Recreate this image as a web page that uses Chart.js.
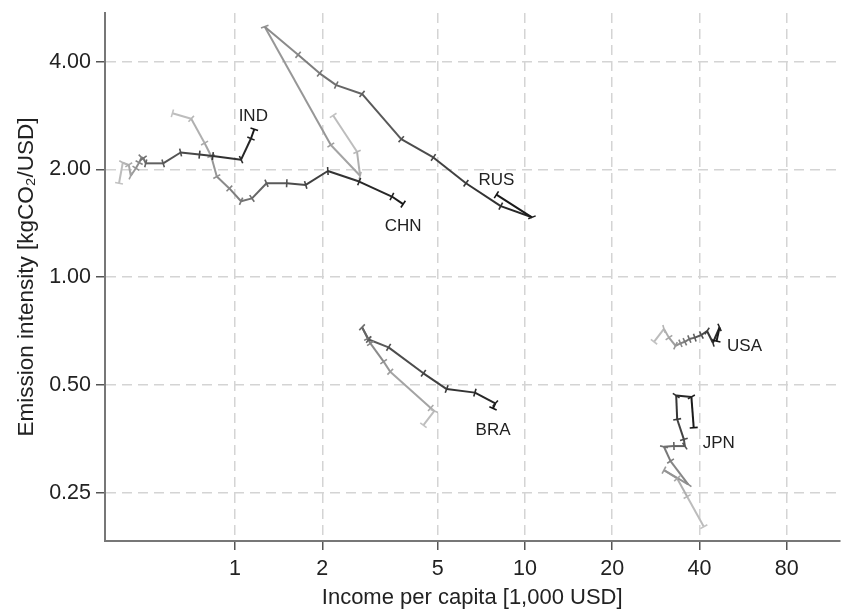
<!DOCTYPE html>
<html>
<head>
<meta charset="utf-8">
<script src="https://cdn.jsdelivr.net/npm/chart.js@4.4.1/dist/chart.umd.min.js"></script>
<style>
  html, body { margin: 0; padding: 0; background: #fff; }
  #wrap { width: 845px; height: 611px; }
</style>
</head>
<body>
<div id="wrap"><canvas id="chart" width="845" height="611"></canvas></div>
<script>
// Country paths: income per capita (1,000 USD) and emission intensity (kgCO2/USD), oldest first
const countries = ['IND', 'CHN', 'RUS', 'BRA', 'USA', 'JPN'];

const incomeIND    = [0.398, 0.41, 0.43, 0.437, 0.455, 0.467, 0.476, 0.483, 0.492, 0.565, 0.649, 0.754, 0.838, 1.049, 1.135, 1.165];
const intensityIND = [1.83, 2.09, 2.06, 1.92, 2.015, 2.09, 2.16, 2.15, 2.08, 2.08, 2.23, 2.20, 2.18, 2.13, 2.44, 2.59];

const incomeCHN    = [0.608, 0.706, 0.785, 0.827, 0.865, 0.956, 1.049, 1.144, 1.284, 1.508, 1.753, 2.09, 2.68, 3.475, 3.80];
const intensityCHN = [2.87, 2.77, 2.37, 2.18, 1.91, 1.77, 1.63, 1.66, 1.83, 1.83, 1.81, 1.98, 1.85, 1.68, 1.60];

const incomeRUS    = [2.18, 2.635, 2.70, 2.14, 1.266, 1.65, 1.958, 2.233, 2.742, 3.743, 4.83, 6.26, 8.25, 10.57, 7.97];
const intensityRUS = [2.83, 2.24, 1.92, 2.34, 5.01, 4.18, 3.71, 3.44, 3.25, 2.43, 2.16, 1.83, 1.58, 1.47, 1.70];

const incomeBRA    = [4.465, 4.87, 4.73, 3.43, 3.255, 2.93, 2.868, 2.742, 2.89, 3.385, 4.465, 5.37, 6.72, 7.90, 7.76];
const intensityBRA = [0.386, 0.423, 0.431, 0.5445, 0.581, 0.6535, 0.674, 0.7246, 0.670, 0.637, 0.539, 0.487, 0.476, 0.444, 0.430];

const incomeUSA    = [27.87, 30.16, 31.38, 33.06, 34.38, 35.6, 36.9, 38.53, 40.6, 42.47, 44.5, 46.9, 45.8];
const intensityUSA = [0.660, 0.717, 0.678, 0.6435, 0.6535, 0.660, 0.672, 0.678, 0.6895, 0.7075, 0.656, 0.724, 0.663];

const incomeJPN    = [41.4, 36.25, 33.5, 30.16, 36.55, 31.78, 30.16, 32.64, 35.6, 35.33, 33.5, 33.24, 37.5, 38.2];
const intensityJPN = [0.201, 0.244, 0.274, 0.289, 0.264, 0.3065, 0.336, 0.3375, 0.3375, 0.3525, 0.401, 0.467, 0.463, 0.380];

const xTicks = [1, 2, 5, 10, 20, 40, 80];
const yTicks = [0.25, 0.5, 1, 2, 4];

const series = {
  IND: [incomeIND, intensityIND],
  CHN: [incomeCHN, intensityCHN],
  RUS: [incomeRUS, intensityRUS],
  BRA: [incomeBRA, intensityBRA],
  USA: [incomeUSA, intensityUSA],
  JPN: [incomeJPN, intensityJPN]
};

// where each country name sits, relative to its last point (px)
const labelOffsets = { IND: [-1, -13], CHN: [0, 22], RUS: [0, -14], BRA: [0, 22], USA: [28, 5], JPN: [25, 16] };

const FONT = "'Liberation Sans', Arial, Helvetica, sans-serif";

// light grey for the first year, near black for the last
function shade(i, n) {
  const g = Math.round(195 - 175 * (i / Math.max(n - 1, 1)));
  return `rgb(${g},${g},${g})`;
}

// marker is a short tick drawn across the path
function tickAngle(ctx) {
  if (ctx.dataIndex === undefined) return 0;
  const xs = ctx.chart.scales.x, ys = ctx.chart.scales.y;
  if (!xs || !ys) return 0;
  const pts = ctx.dataset.data;
  const i = ctx.dataIndex;
  const a = pts[Math.max(i - 1, 0)], b = pts[Math.min(i + 1, pts.length - 1)];
  const dx = xs.getPixelForValue(b.x) - xs.getPixelForValue(a.x);
  const dy = ys.getPixelForValue(b.y) - ys.getPixelForValue(a.y);
  return Math.atan2(dy, dx) * 180 / Math.PI + 90;
}

const datasets = countries.map(code => {
  const [inc, int] = series[code];
  const n = inc.length;
  return {
    label: code,
    data: inc.map((x, i) => ({ x, y: int[i] })),
    showLine: true,
    borderWidth: 2,
    borderColor: shade(n - 1, n),
    segment: { borderColor: c => shade(c.p0DataIndex + 0.5, n) },
    pointStyle: 'line',
    pointRadius: 4,
    pointBorderWidth: 1.6,
    pointBorderColor: c => shade(c.dataIndex, n),
    pointRotation: tickAngle,
    clip: false
  };
});

const countryLabels = {
  id: 'countryLabels',
  afterDatasetsDraw(chart) {
    const ctx = chart.ctx;
    ctx.save();
    ctx.font = `17px ${FONT}`;
    ctx.fillStyle = '#222';
    ctx.textAlign = 'center';
    ctx.textBaseline = 'middle';
    chart.data.datasets.forEach((ds, k) => {
      const pts = chart.getDatasetMeta(k).data;
      const last = pts[pts.length - 1];
      const off = labelOffsets[ds.label];
      ctx.fillText(ds.label, last.x + off[0], last.y + off[1]);
    });
    ctx.restore();
  }
};

const gridStyle = {
  color: '#d4d4d4',
  lineWidth: 1.5,
  tickLength: 9,
  tickColor: '#555',
  tickWidth: 1.5,
  tickBorderDash: []
};

new Chart(document.getElementById('chart'), {
  type: 'scatter',
  data: { datasets },
  plugins: [countryLabels],
  options: {
    responsive: false,
    animation: false,
    events: [],
    layout: { padding: { top: 13, right: 0, left: 0, bottom: 0 } },
    plugins: { legend: { display: false }, tooltip: { enabled: false } },
    scales: {
      x: {
        type: 'logarithmic',
        bounds: 'data',
        min: 0.356,
        max: 121.5,
        afterBuildTicks: s => { s.ticks = xTicks.map(v => ({ value: v })); },
        afterFit: s => { s.height = 70; s.paddingLeft = 0; s.paddingRight = 0; },
        ticks: {
          autoSkip: false, maxRotation: 0, padding: 6,
          color: '#222', font: { family: FONT, size: 21.5 },
          callback: v => String(v)
        },
        grid: gridStyle,
        border: { color: '#777', width: 2, dash: [10, 6] },
        title: {
          display: true, text: 'Income per capita [1,000 USD]',
          color: '#222', font: { family: FONT, size: 22 }, padding: 0
        }
      },
      y: {
        type: 'logarithmic',
        bounds: 'data',
        min: 0.1833,
        max: 5.47,
        afterBuildTicks: s => { s.ticks = yTicks.map(v => ({ value: v })); },
        afterFit: s => { s.width = 105; s.paddingTop = 0; s.paddingBottom = 0; },
        ticks: {
          autoSkip: false, padding: 5,
          color: '#222', font: { family: FONT, size: 21.5 },
          callback: v => Number(v).toFixed(2)
        },
        grid: gridStyle,
        border: { color: '#777', width: 2, dash: [10, 6] },
        title: {
          display: true, text: 'Emission intensity [kgCO\u2082/USD]',
          color: '#222', font: { family: FONT, size: 22.5 }, padding: { top: 13, bottom: 0 }
        }
      }
    }
  }
});
</script>
</body>
</html>
